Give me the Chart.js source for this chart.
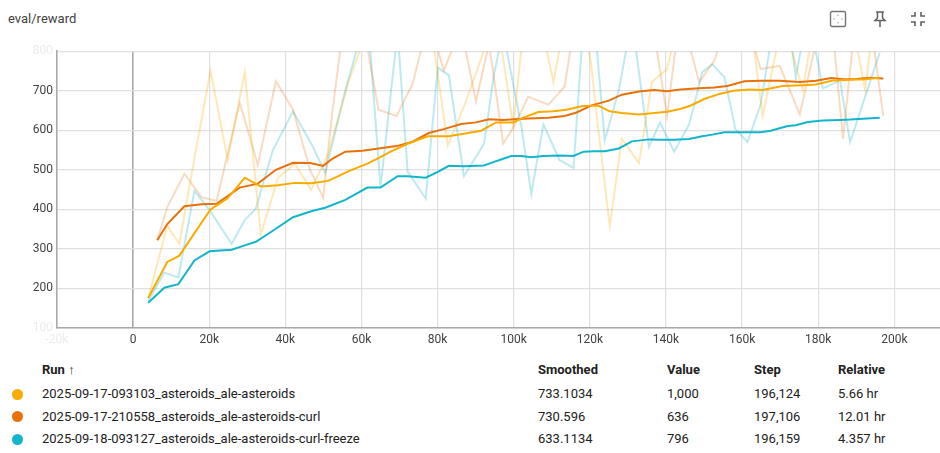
<!DOCTYPE html>
<html>
<head>
<meta charset="utf-8">
<script src="https://cdn.jsdelivr.net/npm/chart.js@4.4.1/dist/chart.umd.min.js"></script>
<style>
  body { margin: 0; width: 940px; height: 453px; background: #fff; font-family: Roboto, sans-serif; color: #212121; position: relative; overflow: hidden; }
  #title { position: absolute; left: 8px; top: 11px; font-size: 13px; color: #424242; }
  #wrap { position: absolute; left: 0; top: 40px; width: 940px; height: 310px; }
  .ico { position: absolute; top: 10px; }
  .cell { position: absolute; font-size: 13px; white-space: nowrap; line-height: 16px; }
  .head { font-weight: 700; }
  .dot { position: absolute; width: 11px; height: 11px; border-radius: 50%; }
</style>
</head>
<body>
<div id="title">eval/reward</div>

<svg class="ico" style="left:829px" width="18" height="18" viewBox="0 0 18 18">
  <rect x="1.5" y="1.5" width="15" height="15" rx="1.5" fill="none" stroke="#757575" stroke-width="1.4"/>
  <path d="M9 4.5v1.5M9 12v1.5M4.5 9h1.5M12 9h1.5" stroke="#9e9e9e" stroke-width="1"/>
</svg>
<svg class="ico" style="left:871px" width="18" height="18" viewBox="0 0 18 18">
  <path d="M5 2h8M6.5 2v6l-2.5 2.5h10L11.5 8V2M9 10.5V17" fill="none" stroke="#616161" stroke-width="1.5"/>
</svg>
<svg class="ico" style="left:909px" width="18" height="18" viewBox="0 0 18 18">
  <path d="M6 2v4H2M12 2v4h4M6 16v-4H2M12 16v-4h4" fill="none" stroke="#616161" stroke-width="1.6"/>
</svg>

<div id="wrap"><canvas id="chart"></canvas></div>
<div id="table"></div>

<script>
// eixos
const xTickValues = [-20000, 0, 20000, 40000, 60000, 80000, 100000, 120000, 140000, 160000, 180000, 200000];
const xTickLabels = ['-20k', '0', '20k', '40k', '60k', '80k', '100k', '120k', '140k', '160k', '180k', '200k'];
const yTickValues = [100, 200, 300, 400, 500, 600, 700, 800];
const yTickLabels = ['100', '200', '300', '400', '500', '600', '700', '800'];

// run 1: 2025-09-17-093103_asteroids_ale-asteroids
const stepsA = [3963, 8983, 12153, 16116, 20343, 24835, 29326, 33553, 38045, 42536, 46763, 51255, 56539, 61823, 64729, 67635, 72127, 77411, 82695, 86922, 91413, 95376, 99868, 102510, 106473, 110436, 113870, 117833, 120211, 122325, 125231, 128401, 132893, 136327, 140290, 143725, 146367, 150066, 154029, 157727, 161955, 165389, 170673, 175957, 179392, 183883, 188375, 192338, 196124];
const rawA = [176, 358, 313, 530, 751, 525, 747, 336, 480, 515, 449, 540, 722, 860, 900, 950, 880, 920, 562, 660, 780, 900, 611, 850, 900, 722, 900, 900, 776, 595, 357, 579, 517, 722, 755, 900, 950, 900, 900, 880, 900, 636, 880, 702, 900, 880, 900, 702, 1000];
const smoothA = [176, 267, 283, 340, 400, 428, 480, 458, 461, 467, 466, 472, 496, 517, 531, 546, 566, 585, 585, 591, 599, 620, 620, 632, 646, 648, 652, 661, 662, 662, 648, 644, 640, 643, 647, 654, 662, 679, 692, 700, 703, 702, 712, 714, 716, 726, 728, 729, 733];

// run 2: 2025-09-17-210558_asteroids_ale-asteroids-curl
const stepsB = [6341, 8983, 13474, 17966, 21929, 28005, 32761, 37516, 42008, 46499, 49934, 52312, 55746, 60238, 64465, 69220, 73448, 77675, 81638, 86129, 90092, 93527, 97226, 100132, 103831, 109115, 113342, 116512, 120475, 124967, 128401, 132893, 136856, 140290, 143725, 148745, 152708, 156142, 160634, 164861, 169881, 175165, 179392, 183355, 186525, 189960, 193659, 197106];
const rawB = [322, 406, 490, 431, 421, 670, 513, 724, 652, 500, 429, 644, 900, 880, 652, 636, 718, 880, 751, 860, 673, 820, 566, 611, 685, 665, 710, 900, 950, 900, 920, 880, 850, 636, 900, 722, 776, 880, 900, 755, 763, 640, 820, 900, 578, 900, 880, 636];
const smoothB = [322, 363, 408, 413, 414, 455, 465, 500, 518, 517, 510, 528, 546, 548, 554, 560, 571, 593, 603, 616, 620, 628, 626, 628, 630, 632, 636, 645, 663, 675, 690, 698, 702, 699, 703, 706, 708, 712, 724, 725, 725, 722, 725, 732, 729, 730, 733, 731];

// run 3: 2025-09-18-093127_asteroids_ale-asteroids-curl-freeze
const stepsC = [3963, 8190, 11889, 16116, 20079, 25892, 29326, 32232, 36724, 42008, 47028, 50462, 55746, 61559, 64993, 69485, 72127, 76882, 80053, 82959, 86922, 92206, 94848, 97226, 99339, 101981, 104623, 107794, 112021, 115720, 118362, 121004, 123910, 127609, 131043, 135535, 138441, 142140, 146103, 149537, 152179, 155350, 158256, 161426, 164861, 167503, 171994, 174108, 177278, 181241, 185733, 188375, 196159];
const rawC = [168, 240, 228, 447, 398, 313, 373, 402, 550, 648, 562, 492, 700, 900, 455, 850, 496, 427, 759, 739, 484, 566, 743, 850, 743, 611, 439, 615, 525, 505, 880, 900, 574, 702, 880, 558, 620, 546, 615, 747, 767, 734, 603, 570, 665, 820, 900, 734, 900, 706, 726, 570, 796];
const smoothC = [164, 202, 211, 271, 294, 298, 309, 318, 346, 380, 396, 404, 424, 455, 455, 484, 484, 480, 495, 510, 509, 511, 520, 528, 535, 535, 532, 535, 536, 535, 546, 547, 547, 554, 572, 577, 576, 576, 578, 585, 589, 595, 595, 595, 595, 599, 611, 613, 621, 625, 626, 627, 632];

// tabela
const runNames = ['2025-09-17-093103_asteroids_ale-asteroids', '2025-09-17-210558_asteroids_ale-asteroids-curl', '2025-09-18-093127_asteroids_ale-asteroids-curl-freeze'];
const runColors = ['#f9ab00', '#e8710a', '#12b5cb'];
const runRaw = ['rgba(249,171,0,0.28)', 'rgba(232,113,10,0.25)', 'rgba(18,181,203,0.28)'];
const smoothedLast = ['733.1034', '730.596', '633.1134'];
const valueLast = ['1,000', '636', '796'];
const stepLast = ['196,124', '197,106', '196,159'];
const relativeTime = ['5.66 hr', '12.01 hr', '4.357 hr'];

function pts(steps, vals) {
  return steps.map((s, i) => ({ x: s, y: vals[i] }));
}

const series = [[stepsA, rawA, smoothA], [stepsB, rawB, smoothB], [stepsC, rawC, smoothC]];
const datasets = [];
series.forEach((s, i) => {
  datasets.push({ data: pts(s[0], s[2]), borderColor: runColors[i], borderWidth: 2, pointRadius: 0, tension: 0, order: 0 });
});
series.forEach((s, i) => {
  datasets.push({ data: pts(s[0], s[1]), borderColor: runRaw[i], borderWidth: 2, pointRadius: 0, tension: 0, order: 1 });
});

const tickFont = { family: 'Roboto', size: 12 };
const fadedTick = '#ececec';

new Chart(document.getElementById('chart'), {
  type: 'line',
  data: { datasets: datasets },
  options: {
    animation: false,
    responsive: true,
    maintainAspectRatio: false,
    layout: { padding: { top: 4, right: 0, left: 0, bottom: 0 } },
    plugins: { legend: { display: false }, tooltip: { enabled: false } },
    scales: {
      x: {
        type: 'linear',
        min: -20000,
        max: 212000,
        afterBuildTicks: sc => { sc.ticks = xTickValues.map(v => ({ value: v })); },
        afterFit: sc => { sc.height = 22; },
        ticks: {
          callback: (v, i) => xTickLabels[i],
          color: ctx => ctx.index === 0 ? fadedTick : '#424242',
          font: tickFont, padding: 5, maxRotation: 0, autoSkip: false
        },
        grid: {
          drawTicks: false,
          color: ctx => (ctx.tick && ctx.tick.value === 0) ? '#a9a9a9' : '#e0e0e0',
          lineWidth: ctx => (ctx.tick && ctx.tick.value === 0) ? 1.6 : 1.2
        },
        border: { color: '#a9a9a9', width: 1.6 }
      },
      y: {
        min: 100,
        max: 800,
        afterBuildTicks: sc => { sc.ticks = yTickValues.map(v => ({ value: v })); },
        afterFit: sc => { sc.width = 57; },
        ticks: {
          callback: (v, i) => yTickLabels[i],
          color: ctx => (ctx.index === 0 || ctx.index === yTickValues.length - 1) ? fadedTick : '#424242',
          font: tickFont, padding: 4
        },
        grid: { drawTicks: false, color: '#e0e0e0', lineWidth: 1.2 },
        border: { color: '#a9a9a9', width: 1.6 }
      }
    }
  }
});

// tabela de runs
const tabela = document.getElementById('table');
function cell(txt, left, top, cls) {
  const d = document.createElement('div');
  d.className = 'cell' + (cls ? ' ' + cls : '');
  d.style.left = left + 'px';
  d.style.top = top + 'px';
  d.textContent = txt;
  tabela.appendChild(d);
}
const cols = [42, 538, 667, 754, 838];
const headers = ['Run \u2191', 'Smoothed', 'Value', 'Step', 'Relative'];
headers.forEach((h, i) => cell(h, cols[i], 362, 'head'));
runNames.forEach((name, r) => {
  const top = 386 + r * 22.5;
  const dot = document.createElement('div');
  dot.className = 'dot';
  dot.style.left = '12px';
  dot.style.top = (top + 2.5) + 'px';
  dot.style.background = runColors[r];
  tabela.appendChild(dot);
  cell(name, cols[0], top);
  cell(smoothedLast[r], cols[1], top);
  cell(valueLast[r], cols[2], top);
  cell(stepLast[r], cols[3], top);
  cell(relativeTime[r], cols[4], top);
});
</script>
</body>
</html>
